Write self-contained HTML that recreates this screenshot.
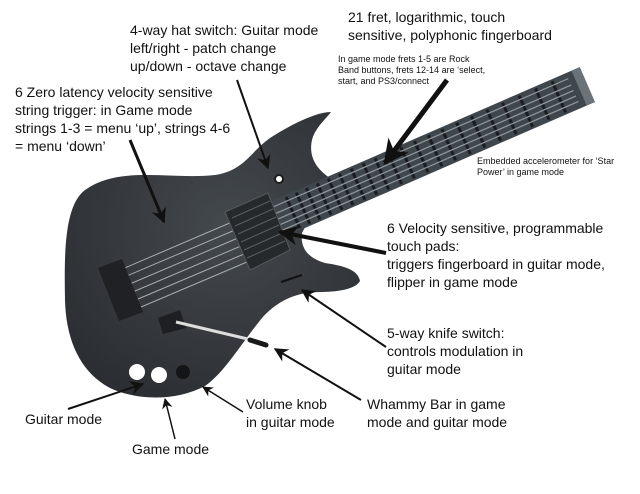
<!DOCTYPE html>
<html><head><meta charset="utf-8"><style>
html,body{margin:0;padding:0;background:#fff;}
body{width:640px;height:494px;overflow:hidden;position:relative;font-family:"Liberation Sans",sans-serif;color:#111;}
.t{position:absolute;font-size:14px;line-height:18px;white-space:nowrap;}
.s{position:absolute;font-size:9px;line-height:11px;white-space:nowrap;}
svg{position:absolute;left:0;top:0;}
</style></head><body>
<svg width="640" height="494" viewBox="0 0 640 494">
<defs>
<radialGradient id="bg" cx="0.55" cy="0.4" r="0.7"><stop offset="0" stop-color="#44494e"/><stop offset="1" stop-color="#2a2d31"/></radialGradient>
<marker id="ah" viewBox="0 0 10 10" refX="9" refY="5" markerWidth="5" markerHeight="5" orient="auto"><path d="M0,0 L10,5 L0,10 L3,5z" fill="#111"/></marker>
<marker id="ahs" viewBox="0 0 10 10" refX="9" refY="5" markerWidth="7" markerHeight="7" orient="auto"><path d="M0,0 L10,5 L0,10 L3,5z" fill="#111"/></marker>
</defs>
<path d="M331,112 C318,112 295,122 270,138 C250,152 245,170 215,175 C170,180 120,165 85,190 C65,205 64,250 65,300 C66,340 80,372 110,388 C135,400 175,402 205,386 C225,372 240,345 262,318 C280,298 300,292 320,292 C335,292 355,290 360,281 C358,270 345,266 325,263 C308,258 300,248 302,233 L330,178 C318,170 308,158 312,140 C315,128 325,120 331,112 Z" fill="url(#bg)"/>
<g transform="translate(586,84) rotate(-23.5)">
<rect x="-345" y="-18" width="346" height="38" fill="#3f464c"/>
<rect x="-8" y="-18" width="9" height="38" fill="#6b7379"/>
<g stroke="#1a1c1f" stroke-width="3">
<line x1="-30" y1="-16" x2="-30" y2="18"/><line x1="-48" y1="-16" x2="-48" y2="18"/><line x1="-66" y1="-16" x2="-66" y2="18"/><line x1="-84" y1="-16" x2="-84" y2="18"/><line x1="-101" y1="-16" x2="-101" y2="18"/><line x1="-118" y1="-16" x2="-118" y2="18"/><line x1="-134" y1="-16" x2="-134" y2="18"/><line x1="-150" y1="-16" x2="-150" y2="18"/><line x1="-165" y1="-16" x2="-165" y2="18"/><line x1="-180" y1="-16" x2="-180" y2="18"/><line x1="-195" y1="-16" x2="-195" y2="18"/><line x1="-209" y1="-16" x2="-209" y2="18"/><line x1="-223" y1="-16" x2="-223" y2="18"/><line x1="-236" y1="-16" x2="-236" y2="18"/><line x1="-249" y1="-16" x2="-249" y2="18"/><line x1="-262" y1="-16" x2="-262" y2="18"/><line x1="-274" y1="-16" x2="-274" y2="18"/><line x1="-286" y1="-16" x2="-286" y2="18"/><line x1="-298" y1="-16" x2="-298" y2="18"/><line x1="-309" y1="-16" x2="-309" y2="18"/><line x1="-320" y1="-16" x2="-320" y2="18"/>
</g>
<g stroke="#8d959b" stroke-width="1.3">
<line x1="-345" y1="-12" x2="-14" y2="-12"/><line x1="-345" y1="-5" x2="-14" y2="-5"/><line x1="-345" y1="1" x2="-14" y2="1"/><line x1="-345" y1="7" x2="-14" y2="7"/><line x1="-345" y1="13" x2="-14" y2="13"/>
</g>
</g>
<g stroke="#a9adb0" stroke-width="1">
<line x1="120" y1="270" x2="232" y2="222"/><line x1="122" y1="278" x2="235" y2="230"/><line x1="125" y1="286" x2="238" y2="238"/><line x1="128" y1="294" x2="241" y2="246"/><line x1="131" y1="302" x2="244" y2="254"/><line x1="134" y1="310" x2="247" y2="262"/>
</g>
<path d="M98,268 L122,259 L143,312 L119,321 Z" fill="#1f2124"/>
<path d="M225,212 L268,193 L290,250 L250,270 Z" fill="#26292c" stroke="#55595d" stroke-width="1"/>
<g stroke="#5a5f63" stroke-width="1"><line x1="232" y1="218" x2="270" y2="201"/><line x1="235" y1="226" x2="273" y2="209"/><line x1="238" y1="234" x2="276" y2="217"/><line x1="241" y1="242" x2="279" y2="225"/><line x1="244" y1="250" x2="282" y2="233"/><line x1="247" y1="258" x2="285" y2="241"/></g>
<circle cx="279" cy="179" r="5" fill="#1b1d1f"/><circle cx="279" cy="179" r="3" fill="#fff"/>
<line x1="281" y1="282" x2="302" y2="275" stroke="#111" stroke-width="2"/>
<path d="M158,318 L180,310 L186,328 L163,334 Z" fill="#1d1f22"/>
<line x1="176" y1="322" x2="252" y2="340" stroke="#ddd" stroke-width="3"/>
<line x1="250" y1="340" x2="266" y2="345" stroke="#1a1a1a" stroke-width="5" stroke-linecap="round"/>
<circle cx="137" cy="372" r="8" fill="#fff"/><circle cx="159" cy="375" r="8" fill="#fff"/>
<circle cx="183" cy="372" r="7" fill="#141516"/>
<g stroke="#111" fill="none">
<line x1="447" y1="80" x2="385" y2="163" stroke-width="5" marker-end="url(#ah)"/>
<line x1="237" y1="80" x2="268" y2="168" stroke-width="2" marker-end="url(#ahs)"/>
<line x1="130" y1="140" x2="164" y2="222" stroke-width="3" marker-end="url(#ah)"/>
<line x1="386" y1="253" x2="280" y2="232" stroke-width="4" marker-end="url(#ah)"/>
<line x1="386" y1="347" x2="302" y2="290" stroke-width="2" marker-end="url(#ahs)"/>
<line x1="361" y1="400" x2="275" y2="349" stroke-width="2" marker-end="url(#ahs)"/>
<line x1="243" y1="412" x2="203" y2="387" stroke-width="1.5" marker-end="url(#ahs)"/>
<line x1="175" y1="439" x2="165" y2="399" stroke-width="1.5" marker-end="url(#ahs)"/>
<line x1="68" y1="409" x2="143" y2="384" stroke-width="2" marker-end="url(#ahs)"/>
</g>
</svg>
<div class="t" style="left:130px;top:21px">4-way hat switch: Guitar mode<br>left/right - patch change<br>up/down - octave change</div>
<div class="t" style="left:348px;top:8px">21 fret, logarithmic, touch<br>sensitive, polyphonic fingerboard</div>
<div class="s" style="left:338px;top:54px">In game mode frets 1-5 are Rock<br>Band buttons, frets 12-14 are ‘select,<br>start, and PS3/connect</div>
<div class="t" style="left:15px;top:83px">6 Zero latency velocity sensitive<br>string trigger: in Game mode<br>strings 1-3 = menu ‘up’, strings 4-6<br>= menu ‘down’</div>
<div class="s" style="left:477px;top:156px">Embedded accelerometer for ‘Star<br>Power’ in game mode</div>
<div class="t" style="left:387px;top:219px">6 Velocity sensitive, programmable<br>touch pads:<br>triggers fingerboard in guitar mode,<br>flipper in game mode</div>
<div class="t" style="left:387px;top:324px">5-way knife switch:<br>controls modulation in<br>guitar mode</div>
<div class="t" style="left:246px;top:395px">Volume knob<br>in guitar mode</div>
<div class="t" style="left:367px;top:395px">Whammy Bar in game<br>mode and guitar mode</div>
<div class="t" style="left:25px;top:410px">Guitar mode</div>
<div class="t" style="left:132px;top:440px">Game mode</div>
</body></html>
